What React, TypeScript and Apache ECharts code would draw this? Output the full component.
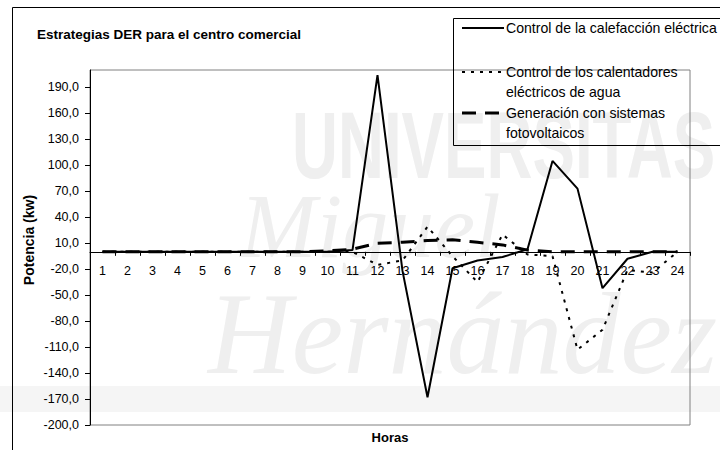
import React, { useEffect, useRef } from "react";
import * as echarts from "echarts";

const hours = ["1","2","3","4","5","6","7","8","9","10","11","12","13","14","15","16","17","18","19","20","21","22","23","24"];
const seriesNames = [
  "Control de la calefacción eléctrica",
  "Control de los calentadores\neléctricos de agua",
  "Generación con sistemas\nfotovoltaicos",
];
const calefaccion = [0, 0, 0, 0, 0, 0, 0, 0, 0, 0, 2, 204, -22, -168, -19, -10, -6, 3, 105, 73, -42, -8, 0, 0];
const calentadores = [0, 0, 0, 0, 0, 0, 0, 0, 0, 0, 0, -15, -10, 29, -5, -35, 20, -3, -5, -113, -90, -21, -24, 0];
const fotovoltaicos = [0, 0, 0, 0, 0, 0, 0, 0, 0, 1, 3, 10, 11, 13, 14, 11, 8, 2, 0, 0, 0, 0, 0, 0];
const yMin = -200;
const yMax = 210;
const yStep = 30;
const titleText = "Estrategias DER para el centro comercial";
const yAxisTitle = "Potencia (kw)";
const xAxisTitle = "Horas";
const watermark = ["UNIVERSITAS", "Miguel", "Hernández"];

const FONT = "Arial, 'Liberation Sans', sans-serif";
const GRID = { left: 90, top: 70, right: 30, bottom: 25 };
const CH = 450;

export default function App() {
  const ref = useRef<HTMLDivElement>(null);
  useEffect(() => {
    if (!ref.current) return;
    const chart = echarts.init(ref.current, null, { renderer: "svg" });
    const plotH = CH - GRID.top - GRID.bottom;
    const zeroOffset = -(plotH * (0 - yMin)) / (yMax - yMin);
    const lineStyles = [
      { width: 2, type: "solid" as any },
      { width: 2, type: [3, 6] as any },
      { width: 3, type: [14, 9] as any },
    ];
    const legendY = [28, 72, 113];
    const legendEls: any[] = [];
    seriesNames.forEach((name, i) => {
      legendEls.push({
        type: "line",
        shape: { x1: 462, y1: legendY[i], x2: 504, y2: legendY[i] },
        style: { stroke: "#000", lineWidth: lineStyles[i].width, lineDash: lineStyles[i].type === "solid" ? null : lineStyles[i].type },
      });
      legendEls.push({
        type: "text",
        x: 506,
        y: legendY[i] - 10,
        style: {
          text: name,
          fill: "#000",
          font: `14.1px ${FONT}`,
          lineHeight: 20,
          textAlign: "left",
          textVerticalAlign: "top",
          align: "left",
          verticalAlign: "top",
        },
      });
    });
    const wmColor = "#efefef";
    chart.setOption({
      animation: false,
      backgroundColor: "#fff",
      grid: { ...GRID, show: true, borderColor: "#808080", borderWidth: 1 },
      xAxis: {
        type: "category",
        data: hours,
        boundaryGap: true,
        offset: zeroOffset,
        axisLine: { onZero: false, lineStyle: { color: "#000", width: 1 } },
        axisTick: { show: true, length: 4, lineStyle: { color: "#000" } },
        axisLabel: { color: "#000", fontSize: 12.5, fontFamily: FONT, margin: 13, interval: 0 },
        splitLine: { show: false },
      },
      yAxis: {
        type: "value",
        min: yMin,
        max: yMax,
        interval: yStep,
        axisLine: { show: true, lineStyle: { color: "#000", width: 1 } },
        axisTick: { show: true, length: 5, lineStyle: { color: "#000" } },
        axisLabel: {
          color: "#000",
          fontSize: 12.5,
          fontFamily: FONT,
          margin: 11,
          showMaxLabel: false,
          formatter: (v: number) => v.toFixed(1).replace(".", ","),
        },
        splitLine: { show: false },
      },
      series: [
        { name: seriesNames[0], data: calefaccion, z: 5 },
        { name: seriesNames[1], data: calentadores, z: 4 },
        { name: seriesNames[2], data: fotovoltaicos, z: 3 },
      ].map((s, i) => ({
        ...s,
        type: "line",
        symbol: "none",
        lineStyle: { color: "#000", width: lineStyles[i].width, type: lineStyles[i].type },
      })),
      graphic: [
        { type: "rect", z: -20, shape: { x: 0, y: 386, width: 720, height: 26 }, style: { fill: "#f5f5f5" } },
        { type: "text", z: -10, x: 292, y: 98, scaleX: 0.67, style: { text: watermark[0], fill: wmColor, font: `bold 95px ${FONT}`, textAlign: "left", textVerticalAlign: "top", align: "left", verticalAlign: "top" } },
        { type: "text", z: -10, x: 240, y: 180, style: { text: watermark[1], fill: wmColor, font: `italic 92px 'Liberation Serif', serif`, textAlign: "left", textVerticalAlign: "top", align: "left", verticalAlign: "top" } },
        { type: "text", z: -10, x: 208, y: 276, style: { text: watermark[2], fill: wmColor, font: `italic 116px 'Liberation Serif', serif`, textAlign: "left", textVerticalAlign: "top", align: "left", verticalAlign: "top" } },
        { type: "rect", shape: { x: 12.5, y: 7.5, width: 800, height: 500 }, style: { fill: "none", stroke: "#000", lineWidth: 1 } },
        { type: "rect", shape: { x: 453.5, y: 18.5, width: 400, height: 127 }, style: { fill: "none", stroke: "#000", lineWidth: 1 } },
        ...legendEls,
        { type: "text", x: 37, y: 34, style: { text: titleText, fill: "#000", font: `bold 13.5px ${FONT}`, textAlign: "left", textVerticalAlign: "middle", align: "left", verticalAlign: "middle" } },
        { type: "text", x: 29, y: 240, rotation: Math.PI / 2, style: { text: yAxisTitle, fill: "#000", font: `bold 14px ${FONT}`, textAlign: "center", textVerticalAlign: "middle", align: "center", verticalAlign: "middle" } },
        { type: "text", x: 390, y: 437, style: { text: xAxisTitle, fill: "#000", font: `bold 13px ${FONT}`, textAlign: "center", textVerticalAlign: "middle", align: "center", verticalAlign: "middle" } },
      ],
    });
    return () => chart.dispose();
  }, []);
  return <div ref={ref} style={{ width: 720, height: 450, position: "absolute", left: 0, top: 0 }} />;
}
